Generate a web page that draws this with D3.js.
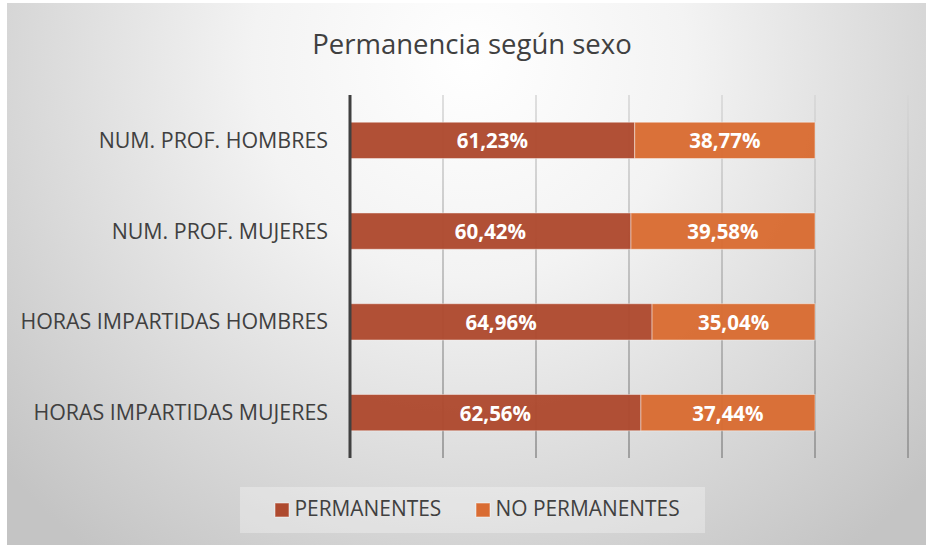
<!DOCTYPE html>
<html>
<head>
<meta charset="utf-8">
<script src="https://cdn.jsdelivr.net/npm/d3@7"></script>
<style>
  body { margin: 0; background: #fff; }
  svg { display: block; }
</style>
</head>
<body>
<svg id="chart" width="926" height="545"></svg>
<script>
// data
var categories = ["NUM. PROF. HOMBRES", "NUM. PROF. MUJERES", "HORAS IMPARTIDAS HOMBRES", "HORAS IMPARTIDAS MUJERES"];
var permanentes = [61.23, 60.42, 64.96, 62.56];
var noPermanentes = [38.77, 39.58, 35.04, 37.44];
var seriesNames = ["PERMANENTES", "NO PERMANENTES"];
var seriesColors = ["#ae4a2f", "#d96c33"];
var gridTicks = [0, 20, 40, 60, 80, 100, 120];

var svg = d3.select("#chart"),
    width = +svg.attr("width"),
    height = +svg.attr("height"),
    font = "'Open Sans', 'DejaVu Sans', sans-serif";

var defs = svg.append("defs");
var bg = defs.append("radialGradient")
    .attr("id", "bg")
    .attr("gradientUnits", "userSpaceOnUse")
    .attr("cx", 470).attr("cy", 60)
    .attr("r", 620);
bg.append("stop").attr("offset", "0").attr("stop-color", "#ffffff");
bg.append("stop").attr("offset", "0.35").attr("stop-color", "#f3f3f3");
bg.append("stop").attr("offset", "1").attr("stop-color", "#c4c4c4");

var gridGrad = defs.append("linearGradient")
    .attr("id", "gridGrad")
    .attr("gradientUnits", "userSpaceOnUse")
    .attr("x1", 0).attr("y1", 95).attr("x2", 0).attr("y2", 458);
gridGrad.append("stop").attr("offset", "0").attr("stop-color", "#d6d6d6");
gridGrad.append("stop").attr("offset", "1").attr("stop-color", "#8c8c8c");

// panel
svg.append("rect")
    .attr("x", 7).attr("y", 3)
    .attr("width", width - 7).attr("height", height - 3)
    .attr("fill", "url(#bg)");

svg.append("text")
    .attr("x", 472).attr("y", 54)
    .attr("text-anchor", "middle")
    .attr("font-family", font)
    .attr("font-size", 27.5)
    .attr("fill", "#404040")
    .text("Permanencia según sexo");

var x = d3.scaleLinear().domain([0, 120]).range([350, 908]);
var y = d3.scaleBand().domain(categories).range([95, 458]).paddingInner(0.6).paddingOuter(0.3);

// gridlines
svg.append("g").selectAll("line")
    .data(gridTicks.slice(1))
    .join("line")
    .attr("x1", function(d) { return x(d); })
    .attr("x2", function(d) { return x(d); })
    .attr("y1", 95).attr("y2", 458)
    .attr("stroke", "url(#gridGrad)")
    .attr("stroke-width", 1.5);

// stacked bars
var rows = categories.map(function(c, i) {
    return { cat: c, vals: [permanentes[i], noPermanentes[i]] };
});

rows.forEach(function(row) {
    var start = 0;
    row.vals.forEach(function(v, j) {
        var x0 = x(start), x1 = x(start + v);
        svg.append("rect")
            .attr("x", x0).attr("y", y(row.cat))
            .attr("width", x1 - x0).attr("height", y.bandwidth())
            .attr("fill", seriesColors[j])
            .attr("fill-opacity", 0.97)
            .attr("stroke", "rgba(255,255,255,0.45)")
            .attr("stroke-width", 1);
        svg.append("text")
            .attr("x", (x0 + x1) / 2)
            .attr("y", y(row.cat) + y.bandwidth() / 2 + 8)
            .attr("text-anchor", "middle")
            .attr("font-family", font)
            .attr("font-weight", "bold")
            .attr("font-size", 20.5)
            .attr("fill", "#ffffff")
            .text(v.toFixed(2).replace(".", ",") + "%");
        start += v;
    });
});

// category axis
svg.append("line")
    .attr("x1", x(0)).attr("x2", x(0))
    .attr("y1", 95).attr("y2", 458)
    .attr("stroke", "#404040")
    .attr("stroke-width", 3);

svg.append("g").selectAll("text")
    .data(categories)
    .join("text")
    .attr("x", 328)
    .attr("y", function(d) { return y(d) + y.bandwidth() / 2 + 7.5; })
    .attr("text-anchor", "end")
    .attr("font-family", font)
    .attr("font-size", 21.4)
    .attr("fill", "#404040")
    .text(function(d) { return d; });

// legend
svg.append("rect")
    .attr("x", 240).attr("y", 487)
    .attr("width", 465).attr("height", 46)
    .attr("fill", "#ffffff")
    .attr("fill-opacity", 0.3);

var legendX = [275, 476];
seriesNames.forEach(function(name, i) {
    svg.append("rect")
        .attr("x", legendX[i]).attr("y", 503)
        .attr("width", 14).attr("height", 14)
        .attr("fill", seriesColors[i])
        .attr("stroke", "rgba(255,255,255,0.5)");
    svg.append("text")
        .attr("x", legendX[i] + 19.5).attr("y", 516)
        .attr("font-family", font)
        .attr("font-size", 20.9)
        .attr("fill", "#404040")
        .text(name);
});
</script>
</body>
</html>
